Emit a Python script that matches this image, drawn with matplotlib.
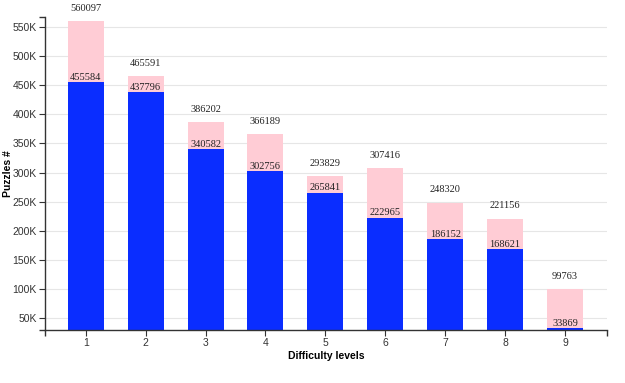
import matplotlib
matplotlib.use('Agg')
import matplotlib.pyplot as plt
from matplotlib.ticker import FuncFormatter

levels = [1, 2, 3, 4, 5, 6, 7, 8, 9]
total = [560097, 465591, 386202, 366189, 293829, 307416, 248320, 221156, 99763]
solved = [455584, 437796, 340582, 302756, 265841, 222965, 186152, 168621, 33869]

plt.rcParams['font.family'] = ['Liberation Sans', 'DejaVu Sans']

fig = plt.figure(figsize=(6.25, 3.83), dpi=100)
ax = fig.add_axes([0.072, 0.138, 0.899, 0.818])

ymin, ymax = 30000, 567000
xmin, xmax = 0.32, 9.7
ax.set_ylim(ymin, ymax)
ax.set_xlim(xmin, xmax)

# grid behind the bars
ax.set_axisbelow(True)
ax.yaxis.grid(True, color='#e6e6e6', linewidth=0.8)

w = 0.6
ax.bar(levels, [t - ymin for t in total], bottom=ymin, width=w, color='#ffccd5')
ax.bar(levels, [s - ymin for s in solved], bottom=ymin, width=w, color='#0a2dff')

for x, t, s in zip(levels, total, solved):
    ax.annotate(str(t), (x, t), xytext=(0, 6), textcoords='offset points',
                ha='center', va='bottom', fontsize=7.5, family='Liberation Serif', color='#222222')
    ax.annotate(str(s), (x, s), xytext=(0, 1.5), textcoords='offset points',
                ha='center', va='baseline', fontsize=7.5, family='Liberation Serif', color='#222222')

ax.set_yticks(range(50000, 550001, 50000))
ax.yaxis.set_major_formatter(FuncFormatter(lambda v, p: f'{int(v / 1000)}K'))
ax.set_xticks(levels)
# outer ticks at the axis ends
ax.set_xticks([xmin, xmax], minor=True)
ax.set_yticks([ymin, ymax], minor=True)

for side in ['top', 'right']:
    ax.spines[side].set_visible(False)
for side in ['left', 'bottom']:
    ax.spines[side].set_color('#333333')
    ax.spines[side].set_linewidth(1)

ax.tick_params(axis='both', labelsize=7.5, colors='#333333', length=4, width=0.8)
ax.tick_params(axis='both', which='minor', length=4, width=1, color='#333333')
ax.tick_params(axis='x', pad=2)
ax.tick_params(axis='y', pad=2)

ax.set_ylabel('Puzzles #', fontsize=7.5, fontweight='bold')
ax.yaxis.set_label_coords(-0.057, 0.5)
ax.set_xlabel('Difficulty levels', fontsize=7.5, fontweight='bold', labelpad=2)

fig.savefig('out.png', dpi=100)
